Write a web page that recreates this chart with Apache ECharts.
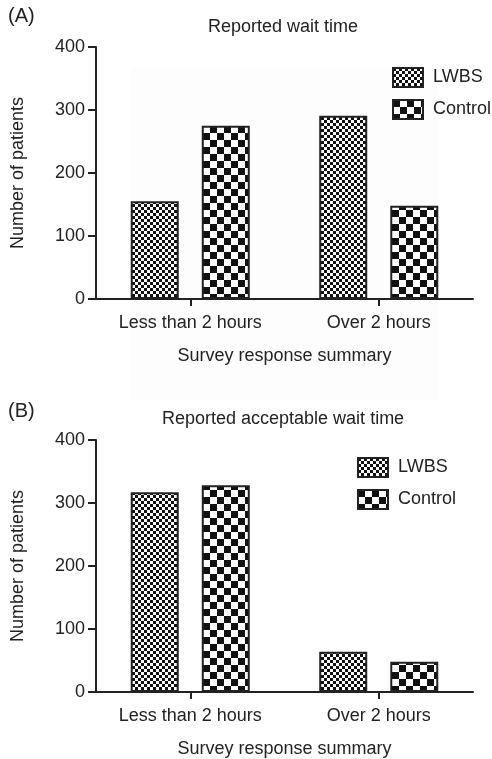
<!DOCTYPE html>
<html>
<head>
<meta charset="utf-8">
<script src="https://cdn.jsdelivr.net/npm/echarts@6/dist/echarts.min.js"></script>
<style>
html,body{margin:0;padding:0;background:#fff;}
#chart{width:492px;height:759px;}
</style>
</head>
<body>
<div id="chart"></div>
<script>
// ---- data ----
const categories = ['Less than 2 hours', 'Over 2 hours'];
const seriesNames = ['LWBS', 'Control'];
const waitLWBS = [155, 291];
const waitControl = [275, 148];
const acceptLWBS = [317, 64];
const acceptControl = [328, 48];
const yTicks = [0, 100, 200, 300, 400];
const panelTitles = ['Reported wait time', 'Reported acceptable wait time'];
const panelLetters = ['(A)', '(B)'];
const xAxisName = 'Survey response summary';
const yAxisName = 'Number of patients';

// ---- patterns ----
function checker(cell) {
  const c = document.createElement('canvas');
  c.width = c.height = cell * 2;
  const ctx = c.getContext('2d');
  ctx.fillStyle = '#ffffff';
  ctx.fillRect(0, 0, cell * 2, cell * 2);
  ctx.fillStyle = '#111111';
  ctx.fillRect(0, 0, cell, cell);
  ctx.fillRect(cell, cell, cell, cell);
  return { image: c, repeat: 'repeat' };
}
const fineFill = checker(3);
const coarseFill = checker(7);

const FONT = 'Liberation Sans, Arial, Helvetica, sans-serif';
const TXT = '#222';

function xAx(gridIndex) {
  return {
    type: 'category', gridIndex, data: categories,
    axisLine: { show: true, lineStyle: { color: TXT, width: 2 } },
    axisTick: { show: true, alignWithLabel: true, length: 7, lineStyle: { color: TXT, width: 2 } },
    axisLabel: { color: TXT, fontSize: 18, fontFamily: FONT, margin: 15 },
    name: xAxisName, nameLocation: 'middle', nameGap: 48,
    nameTextStyle: { color: TXT, fontSize: 18, fontFamily: FONT },
    splitLine: { show: false }
  };
}
function yAx(gridIndex) {
  return {
    type: 'value', gridIndex, min: yTicks[0], max: yTicks[yTicks.length - 1], interval: 100,
    axisLine: { show: true, lineStyle: { color: TXT, width: 2 } },
    axisTick: { show: true, length: 8, lineStyle: { color: TXT, width: 2 } },
    axisLabel: { color: TXT, fontSize: 18, fontFamily: FONT, margin: 11 },
    splitLine: { show: false },
    name: yAxisName, nameLocation: 'middle', nameGap: 69,
    nameTextStyle: { color: TXT, fontSize: 18, fontFamily: FONT }
  };
}
function bar(name, data, idx, fill) {
  return {
    type: 'bar', name, data, xAxisIndex: idx, yAxisIndex: idx,
    barWidth: 48, barGap: '48%',
    itemStyle: { color: fill, borderColor: '#222', borderWidth: 2 },
    emphasis: { disabled: true }
  };
}
function legend(left, top) {
  return {
    data: seriesNames, orient: 'vertical', left, top, icon: 'rect',
    itemWidth: 30, itemHeight: 19, itemGap: 11, padding: 0,
    textStyle: { color: TXT, fontSize: 18, fontFamily: FONT, padding: [0, 0, 0, 5] },
    selectedMode: false
  };
}
function ttl(text, left, top, size) {
  return { text, left, top, padding: 0,
    textStyle: { color: TXT, fontSize: size, fontWeight: 'normal', fontFamily: FONT } };
}

const chart = echarts.init(document.getElementById('chart'), null, { renderer: 'canvas' });
chart.setOption({
  backgroundColor: '#fff',
  animation: false,
  graphic: [{ type: 'rect', left: 131, top: 67, z: -10, silent: true,
    shape: { width: 308, height: 333 }, style: { fill: '#fdfdfd' } }],
  title: [
    ttl(panelLetters[0], 8, 6, 20), ttl(panelTitles[0], 208, 18, 18),
    ttl(panelLetters[1], 8, 401, 20), ttl(panelTitles[1], 162, 410, 18)
  ],
  legend: [legend(392, 67), legend(357, 457)],
  grid: [
    { left: 96, right: 19, top: 47, height: 252 },
    { left: 96, right: 19, top: 440, height: 252 }
  ],
  xAxis: [xAx(0), xAx(1)],
  yAxis: [yAx(0), yAx(1)],
  series: [
    bar(seriesNames[0], waitLWBS, 0, fineFill),
    bar(seriesNames[1], waitControl, 0, coarseFill),
    bar(seriesNames[0], acceptLWBS, 1, fineFill),
    bar(seriesNames[1], acceptControl, 1, coarseFill)
  ]
});
</script>
</body>
</html>
